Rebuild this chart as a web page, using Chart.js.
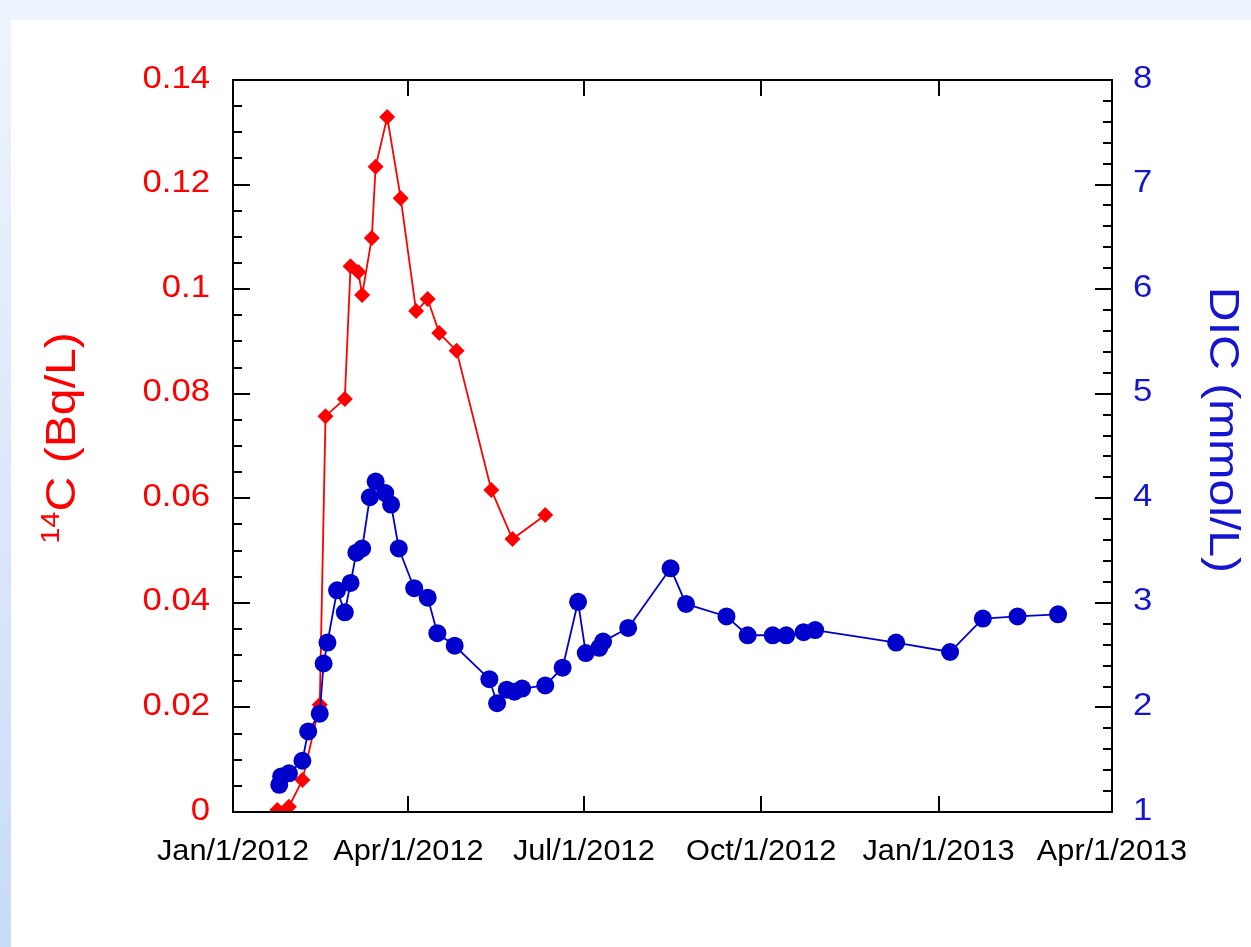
<!DOCTYPE html>
<html>
<head>
<meta charset="utf-8">
<script src="https://cdn.jsdelivr.net/npm/chart.js@4.4.1/dist/chart.umd.min.js"></script>
<style>
  html, body { margin: 0; padding: 0; }
  body {
    width: 1251px; height: 947px; overflow: hidden; position: relative;
    background: linear-gradient(to bottom, #eef4fd 0%, #dbe7fa 55%, #c8dbf7 100%);
  }
  #panel { position: absolute; left: 11px; top: 20px; right: 0; bottom: 0; background: #ffffff; }
  #wrap { position: absolute; left: 0; top: 0; width: 1251px; height: 947px; }
</style>
</head>
<body>
<div id="panel"></div>
<div id="wrap"><canvas id="c" width="1251" height="947"></canvas></div>
<script>
// 14C activity samples (Bq/L)
const c14Dates = [
  '2012-01-24', '2012-01-30', '2012-02-06', '2012-02-15', '2012-02-18',
  '2012-02-28', '2012-03-02', '2012-03-06', '2012-03-08', '2012-03-13',
  '2012-03-15', '2012-03-21', '2012-03-28', '2012-04-05', '2012-04-11',
  '2012-04-17', '2012-04-26', '2012-05-14', '2012-05-25', '2012-06-11'
];
const c14Values = [
  0.0004, 0.0010, 0.0061, 0.0205, 0.0757,
  0.0790, 0.1044, 0.1033, 0.0989, 0.1098,
  0.1234, 0.1329, 0.1174, 0.0958, 0.0981,
  0.0916, 0.0882, 0.0616, 0.0522, 0.0568
];

// Dissolved inorganic carbon samples (mmol/L)
const dicDates = [
  '2012-01-25', '2012-01-26', '2012-01-30', '2012-02-06', '2012-02-09',
  '2012-02-15', '2012-02-17', '2012-02-19', '2012-02-24', '2012-02-28',
  '2012-03-02', '2012-03-05', '2012-03-08', '2012-03-12', '2012-03-15',
  '2012-03-20', '2012-03-23', '2012-03-27', '2012-04-04', '2012-04-11',
  '2012-04-16', '2012-04-25', '2012-05-13', '2012-05-17', '2012-05-22',
  '2012-05-26', '2012-05-30', '2012-06-11', '2012-06-20', '2012-06-28',
  '2012-07-02', '2012-07-09', '2012-07-11', '2012-07-24', '2012-08-15',
  '2012-08-23', '2012-09-13', '2012-09-24', '2012-10-07', '2012-10-14',
  '2012-10-23', '2012-10-29', '2012-12-10', '2013-01-07', '2013-01-24',
  '2013-02-11', '2013-03-04'
];
const dicValues = [
  1.26, 1.34, 1.37, 1.49, 1.77,
  1.94, 2.42, 2.62, 3.12, 2.91,
  3.19, 3.48, 3.52, 4.01, 4.16,
  4.05, 3.94, 3.52, 3.14, 3.05,
  2.71, 2.59, 2.27, 2.04, 2.17,
  2.15, 2.18, 2.21, 2.38, 3.01,
  2.52, 2.57, 2.63, 2.76, 3.33,
  2.99, 2.87, 2.69, 2.69, 2.69,
  2.72, 2.74, 2.62, 2.53, 2.85,
  2.87, 2.89
];

// Axis ticks
const quarterDates  = ['2012-01-01', '2012-04-01', '2012-07-01', '2012-10-01', '2013-01-01', '2013-04-01'];
const quarterLabels = ['Jan/1/2012', 'Apr/1/2012', 'Jul/1/2012', 'Oct/1/2012', 'Jan/1/2013', 'Apr/1/2013'];
const c14Ticks = [0, 0.02, 0.04, 0.06, 0.08, 0.1, 0.12, 0.14];
const dicTicks = [1, 2, 3, 4, 5, 6, 7, 8];

const RED = '#ff0000';
const BLUE = '#0000cc';
const BLUE_TEXT = '#1414d2';
const FONT = "'Liberation Sans', Arial, Helvetica, sans-serif";
const WIDE = 1.12; // text is set slightly wide, Helvetica-style

// dates become day offsets from the first quarter tick
const DAY_MS = 86400000;
function toUTC(iso) { const p = iso.split('-').map(Number); return Date.UTC(p[0], p[1] - 1, p[2]); }
const ORIGIN = toUTC(quarterDates[0]);
const dayOf = iso => (toUTC(iso) - ORIGIN) / DAY_MS;

const c14Points = c14Dates.map((d, i) => ({ x: dayOf(d), y: c14Values[i] }));
const dicPoints = dicDates.map((d, i) => ({ x: dayOf(d), y: dicValues[i] }));
const quarterDays = quarterDates.map(dayOf);

// widened text helper: (x, y) is the anchor, angle rotates the baseline
function wideText(ctx, text, x, y, align, angle, sx) {
  ctx.save();
  ctx.translate(x, y);
  if (angle) ctx.rotate(angle);
  ctx.scale(sx, 1);
  ctx.textAlign = align;
  ctx.fillText(text, 0, 0);
  ctx.restore();
}

// frame, inward tick marks, tick labels and axis titles
const framePlugin = {
  id: 'frame',
  afterDraw(chart) {
    const { ctx, chartArea: a, scales } = chart;
    const xs = scales.x, yl = scales.y, yr = scales.y2;
    ctx.save();
    ctx.strokeStyle = '#000';
    ctx.lineWidth = 2;
    ctx.strokeRect(a.left, a.top, a.right - a.left, a.bottom - a.top);

    const MAJOR = 17, MINOR = 9;
    ctx.beginPath();
    // left axis: major every label, four minor steps between
    for (let i = 0; i < c14Ticks.length; i++) {
      const py = Math.round(yl.getPixelForValue(c14Ticks[i]));
      ctx.moveTo(a.left, py); ctx.lineTo(a.left + MAJOR, py);
      if (i < c14Ticks.length - 1) {
        const step = (c14Ticks[i + 1] - c14Ticks[i]) / 4;
        for (let k = 1; k < 4; k++) {
          const my = Math.round(yl.getPixelForValue(c14Ticks[i] + k * step));
          ctx.moveTo(a.left, my); ctx.lineTo(a.left + MINOR, my);
        }
      }
    }
    // right axis: major every unit, five minor steps between
    for (let i = 0; i < dicTicks.length; i++) {
      const py = Math.round(yr.getPixelForValue(dicTicks[i]));
      ctx.moveTo(a.right, py); ctx.lineTo(a.right - MAJOR, py);
      if (i < dicTicks.length - 1) {
        const step = (dicTicks[i + 1] - dicTicks[i]) / 5;
        for (let k = 1; k < 5; k++) {
          const my = Math.round(yr.getPixelForValue(dicTicks[i] + k * step));
          ctx.moveTo(a.right, my); ctx.lineTo(a.right - MINOR, my);
        }
      }
    }
    // date axis: marks on bottom and top edges
    quarterDays.forEach(d => {
      const px = Math.round(xs.getPixelForValue(d));
      ctx.moveTo(px, a.bottom); ctx.lineTo(px, a.bottom - 16);
      ctx.moveTo(px, a.top); ctx.lineTo(px, a.top + 16);
    });
    ctx.stroke();

    ctx.textBaseline = 'middle';

    // tick labels
    ctx.font = '31px ' + FONT;
    ctx.fillStyle = RED;
    c14Ticks.forEach(v => wideText(ctx, String(v), a.left - 23, yl.getPixelForValue(v) - 1, 'right', 0, WIDE));
    ctx.fillStyle = BLUE_TEXT;
    dicTicks.forEach(v => wideText(ctx, String(v), a.right + 21, yr.getPixelForValue(v) - 1, 'left', 0, WIDE));
    ctx.font = '29px ' + FONT;
    ctx.fillStyle = '#000';
    quarterDays.forEach((d, i) => wideText(ctx, quarterLabels[i], xs.getPixelForValue(d), a.bottom + 40, 'center', 0, 1.06));

    // left title with superscript mass number
    const mainFont = '43px ' + FONT, supFont = '26px ' + FONT;
    ctx.font = supFont; const wSup = ctx.measureText('14').width * WIDE;
    ctx.font = mainFont; const wMain = ctx.measureText('C (Bq/L)').width * WIDE;
    ctx.fillStyle = RED;
    ctx.save();
    ctx.translate(63, 438);
    ctx.rotate(-Math.PI / 2);
    const x0 = -(wSup + wMain) / 2;
    ctx.font = supFont; wideText(ctx, '14', x0, -11, 'left', 0, WIDE);
    ctx.font = mainFont; wideText(ctx, 'C (Bq/L)', x0 + wSup, 0, 'left', 0, WIDE);
    ctx.restore();

    // right title
    ctx.fillStyle = BLUE_TEXT;
    ctx.font = mainFont;
    wideText(ctx, 'DIC (mmol/L)', 1222, 430, 'center', Math.PI / 2, WIDE);
    ctx.restore();
  }
};

new Chart(document.getElementById('c'), {
  type: 'line',
  data: {
    datasets: [
      {
        label: '14C',
        data: c14Points,
        yAxisID: 'y',
        borderColor: RED,
        backgroundColor: RED,
        borderWidth: 1.8,
        pointStyle: 'rectRot',
        pointRadius: 8,
        pointBorderWidth: 0,
        pointBackgroundColor: RED,
        tension: 0,
        order: 2
      },
      {
        label: 'DIC',
        data: dicPoints,
        yAxisID: 'y2',
        borderColor: BLUE,
        backgroundColor: BLUE,
        borderWidth: 1.8,
        pointStyle: 'circle',
        pointRadius: 9,
        pointBorderWidth: 0,
        pointBackgroundColor: BLUE,
        tension: 0,
        order: 1
      }
    ]
  },
  options: {
    responsive: false,
    animation: false,
    events: [],
    layout: { padding: { top: 80, left: 0, right: 0, bottom: 0 } },
    plugins: { legend: { display: false }, tooltip: { enabled: false } },
    scales: {
      x: {
        type: 'linear',
        min: quarterDays[0],
        max: quarterDays[quarterDays.length - 1],
        afterBuildTicks: s => { s.ticks = quarterDays.map(v => ({ value: v })); },
        afterFit: s => { s.height = 135; },
        grid: { display: false, drawTicks: false },
        border: { display: false },
        ticks: { display: false }
      },
      y: {
        type: 'linear',
        position: 'left',
        min: c14Ticks[0],
        max: c14Ticks[c14Ticks.length - 1],
        afterBuildTicks: s => { s.ticks = c14Ticks.map(v => ({ value: v })); },
        afterFit: s => { s.width = 233; },
        grid: { display: false, drawTicks: false },
        border: { display: false },
        ticks: { display: false }
      },
      y2: {
        type: 'linear',
        position: 'right',
        min: dicTicks[0],
        max: dicTicks[dicTicks.length - 1],
        afterBuildTicks: s => { s.ticks = dicTicks.map(v => ({ value: v })); },
        afterFit: s => { s.width = 139; },
        grid: { display: false, drawTicks: false },
        border: { display: false },
        ticks: { display: false }
      }
    }
  },
  plugins: [framePlugin]
});
</script>
</body>
</html>
